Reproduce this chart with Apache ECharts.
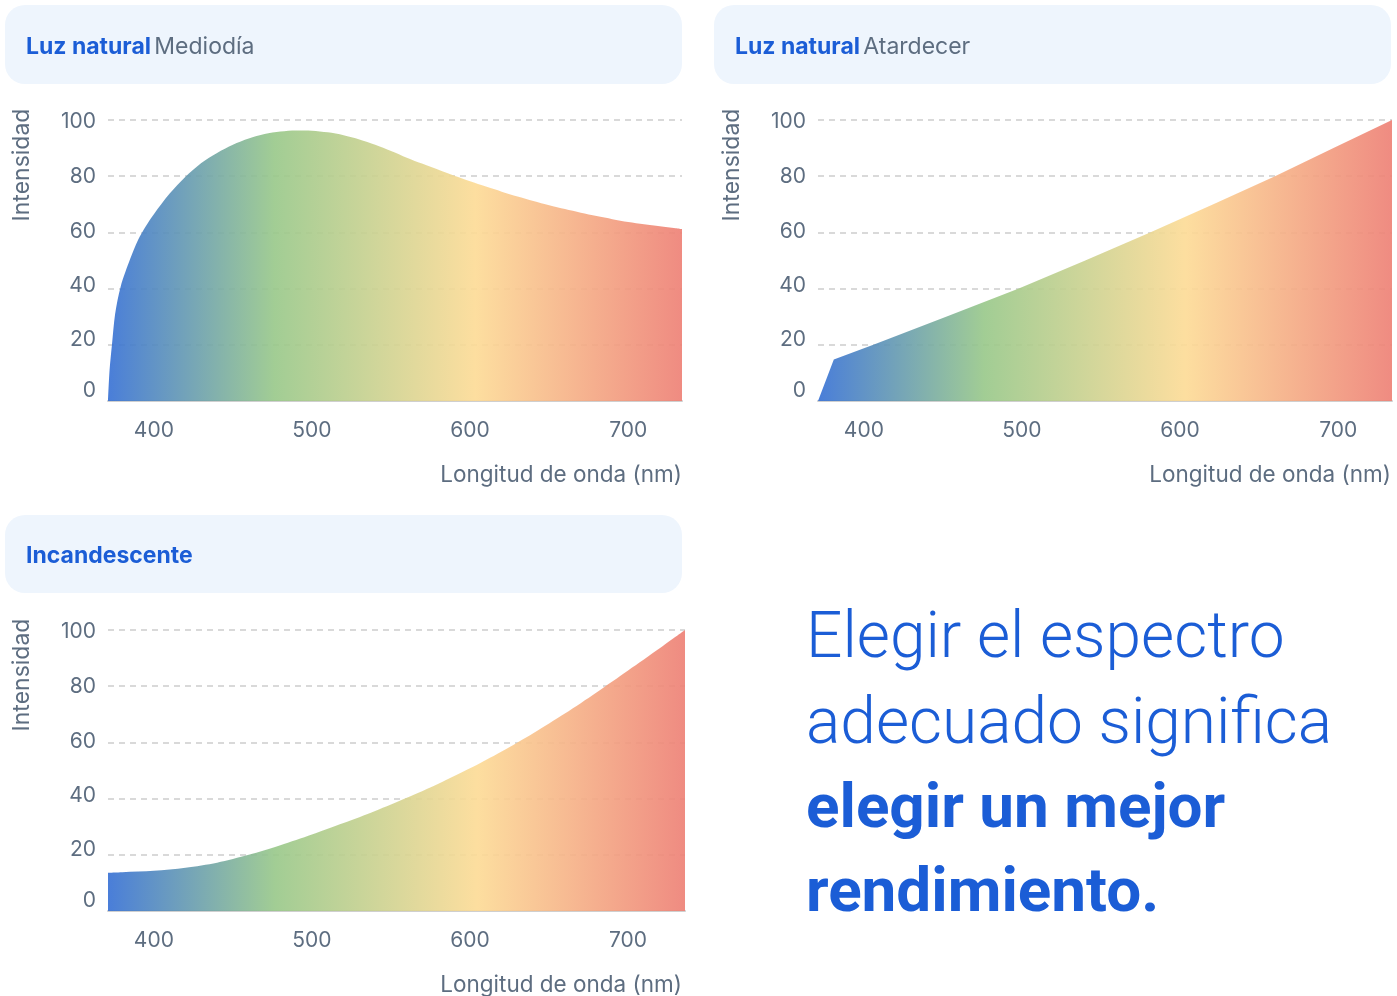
<!DOCTYPE html>
<html><head><meta charset="utf-8">
<script src="https://cdn.jsdelivr.net/npm/echarts@6/dist/echarts.min.js"></script>
<style>html,body{margin:0;padding:0;background:#fff}#c{width:1397px;height:996px}</style>
</head><body><div id="c"></div>
<script>
// ---- data ----
const xTicks = [400, 500, 600, 700];
const mediodiaNm  = [371, 372, 373.5, 375.5, 379, 385, 390, 395, 400, 410, 420, 430, 440, 450, 460, 470, 480, 490, 500, 510, 520, 530, 540, 550, 560, 570, 580, 590, 600, 610, 620, 630, 640, 650, 660, 670, 680, 690, 700, 710, 720, 730, 734];
const mediodiaVal = [0, 11, 20, 31, 40.7, 50.5, 57.3, 62.3, 66.5, 73.8, 79.8, 84.7, 88.3, 91.2, 93.4, 95, 95.9, 96.3, 96.2, 95.6, 94.6, 93.1, 91.2, 89, 86.6, 84.4, 82.3, 80.2, 78.2, 76.3, 74.5, 72.8, 71.2, 69.7, 68.3, 67, 65.8, 64.7, 63.7, 62.9, 62.2, 61.5, 61.2];
const atardecerNm  = [371, 381, 406, 452, 498, 540, 581, 621, 660, 697, 734];
const atardecerVal = [0, 14.8, 20, 30, 40, 50, 60, 70, 80, 90, 100];
const incandNm  = [371, 380, 400, 420, 440, 460, 480, 500, 520, 540, 560, 580, 600, 620, 640, 660, 680, 700, 720, 736];
const incandVal = [13.6, 13.8, 14.3, 15.4, 17.2, 20, 23.4, 27.2, 31.3, 35.6, 40.3, 45.3, 50.8, 56.8, 63.3, 70.3, 77.8, 85.6, 93.5, 100];
const headers = [
  {bold: 'Luz natural', rest: 'Mediodía'},
  {bold: 'Luz natural', rest: 'Atardecer'},
  {bold: 'Incandescente', rest: ''}
];
const yName = 'Intensidad';
const xName = 'Longitud de onda (nm)';
const message = ['Elegir el espectro', 'adecuado significa', 'elegir un mejor', 'rendimiento.'];

// ---- styling ----
const BLUE = '#1b5dd6', GRAY = '#5d6d80';
const FONT = 'Inter';
// vertical nudge of y labels (px, negative = up), purely visual
const yLabelShift = {0: -10, 20: -5, 40: -3, 60: -1, 80: 0, 100: 2};
const yRich = {};
Object.keys(yLabelShift).forEach(k => {
  const d = yLabelShift[k];
  yRich['v' + k] = {color: GRAY, fontSize: 21, fontFamily: FONT,
    padding: d < 0 ? [0, 0, -2 * d, 0] : [2 * d, 0, 0, 0]};
});
const panels = [
  {grid: {left: 108, top: 120, width: 574, height: 281}, box: {x: 5, y: 5, w: 677, h: 79}, xmax: 734, nm: mediodiaNm, val: mediodiaVal, smooth: 0.3},
  {grid: {left: 818, top: 120, width: 574, height: 281}, box: {x: 714, y: 5, w: 677, h: 79}, xmax: 734, nm: atardecerNm, val: atardecerVal, smooth: false},
  {grid: {left: 108, top: 630, width: 577, height: 281}, box: {x: 5, y: 515, w: 677, h: 78}, xmax: 736, nm: incandNm, val: incandVal, smooth: 0.3}
];
function grad() {
  return new echarts.graphic.LinearGradient(0, 0, 1, 0, [
    {offset: 0, color: '#3670d5'},
    {offset: 0.29, color: '#98c889'},
    {offset: 0.64, color: '#fddb95'},
    {offset: 1, color: '#ee7f74'}
  ]);
}
const grids = [], xAxes = [], yAxes = [], series = [], graphics = [];
panels.forEach((p, i) => {
  grids.push(Object.assign({containLabel: false}, p.grid));
  xAxes.push({
    type: 'value', gridIndex: i, min: 371, max: p.xmax,
    axisLine: {show: true, onZero: false, lineStyle: {color: '#cfcfcf', width: 2}},
    axisTick: {show: false}, splitLine: {show: false},
    axisLabel: {customValues: xTicks, color: GRAY, fontSize: 21, fontFamily: FONT, margin: 19}
  });
  yAxes.push({
    type: 'value', gridIndex: i, min: 0, max: 100, interval: 20,
    axisLine: {show: false}, axisTick: {show: false},
    splitLine: {show: true, lineStyle: {color: '#d9d9d9', width: 2, type: [6, 5]}},
    axisLabel: {margin: 12, formatter: v => '{v' + v + '|' + v + '}', rich: yRich}
  });
  series.push({
    type: 'line', xAxisIndex: i, yAxisIndex: i,
    data: p.nm.map((n, k) => [n, p.val[k]]),
    smooth: p.smooth, showSymbol: false, symbol: 'none',
    lineStyle: {width: 0}, areaStyle: {color: grad(), opacity: 0.9}, silent: true
  });
  graphics.push({type: 'rect', left: p.box.x, top: p.box.y, shape: {width: p.box.w, height: p.box.h, r: 20}, style: {fill: '#eef5fd'}, z: -1});
  const h = headers[i];
  graphics.push({type: 'text', left: p.box.x + 21, top: p.box.y + p.box.h / 2 - 9,
    style: {text: '{b|' + h.bold + '}' + (h.rest ? ' {n|' + h.rest + '}' : ''),
      rich: {b: {fontFamily: FONT, fontSize: 23, fontWeight: 700, fill: BLUE, lineHeight: 28},
             n: {fontFamily: FONT, fontSize: 23, fontWeight: 400, fill: GRAY, lineHeight: 28}}}});
  graphics.push({type: 'text', x: p.grid.left - 86, y: p.grid.top + 45, rotation: Math.PI / 2,
    style: {text: yName, fontFamily: FONT, fontSize: 23, fill: GRAY, align: 'center', verticalAlign: 'middle'}});
  graphics.push({type: 'text', x: p.box.x + p.box.w, y: p.grid.top + p.grid.height + 74,
    style: {text: xName, fontFamily: FONT, fontSize: 22.5, fill: GRAY, align: 'right', verticalAlign: 'middle'}});
});
const baselines = [657, 743, 828, 912];
message.forEach((t, k) => {
  const light = k < 2;
  graphics.push({type: 'text', x: 806, y: baselines[k] - 48,
    style: {text: t, fontFamily: 'Roboto', fontSize: light ? 64 : 62, fontWeight: light ? 300 : 700, fill: BLUE, align: 'left'}});
});
const chart = echarts.init(document.getElementById('c'), null, {renderer: 'canvas'});
chart.setOption({animation: false, grid: grids, xAxis: xAxes, yAxis: yAxes, series: series, graphic: graphics});
</script></body></html>
